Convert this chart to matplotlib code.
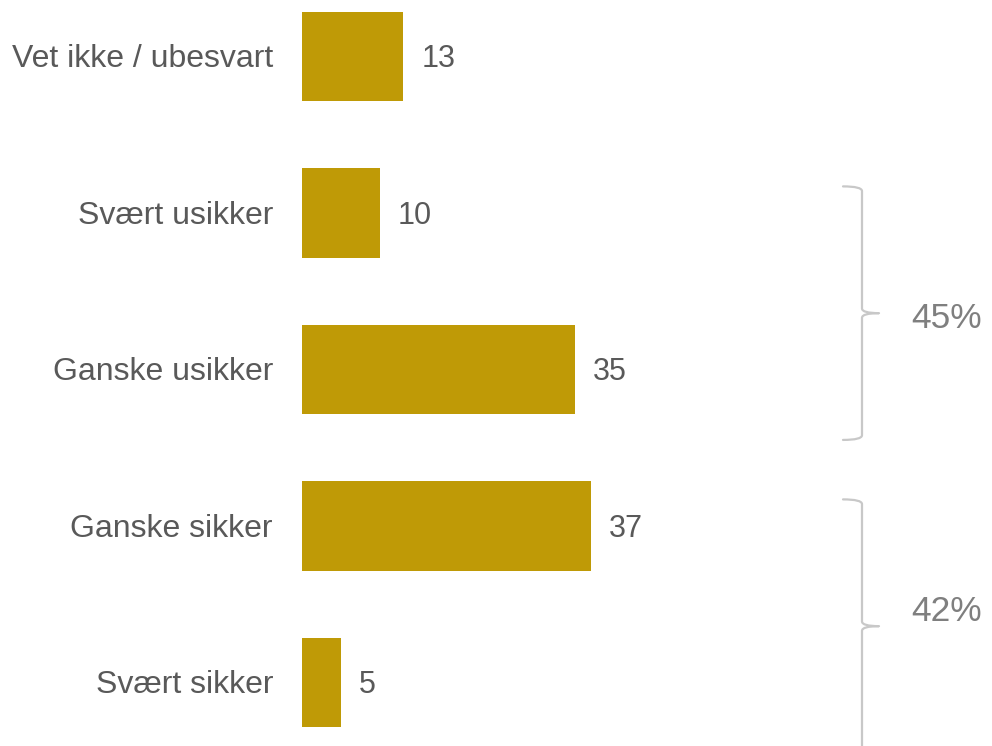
import matplotlib
matplotlib.use("Agg")
import matplotlib.pyplot as plt
from matplotlib.path import Path
from matplotlib.patches import PathPatch

# Data
categories = ["Vet ikke / ubesvart", "Svært usikker", "Ganske usikker", "Ganske sikker", "Svært sikker"]
values = [13, 10, 35, 37, 5]
groups = [(1, 2), (3, 4)]  # index ranges bracketed with a total

BAR_COLOR = "#BF9A06"
TEXT_COLOR = "#595959"
BRACE_COLOR = "#C8C8C8"
PCT_COLOR = "#7F7F7F"

plt.rcParams["font.family"] = ["Liberation Sans", "DejaVu Sans"]

fig = plt.figure(figsize=(9.92, 7.46), dpi=100)
ax = fig.add_axes([302 / 992, 0, 690 / 992, 1])

px_per_unit = 7.8
step = 156.5
ax.set_xlim(0, 690 / px_per_unit)
ax.set_ylim((746 - 56.5) / step, -56.5 / step)

ypos = list(range(len(categories)))
ax.barh(ypos, values, height=0.57, color=BAR_COLOR)

dy = 2.5 / step  # nudge text so cap height centres on the bar
for y, v, c in zip(ypos, values, categories):
    ax.text(v + 18 / px_per_unit, y + dy, str(v), va="center", ha="left",
            fontsize=22, color=TEXT_COLOR)
    ax.text(-29 / px_per_unit, y + dy, c, va="center", ha="right",
            fontsize=23, color=TEXT_COLOR)

# Braces with group totals
x_hook = (843 - 302) / px_per_unit
x_line = (862 - 302) / px_per_unit
x_tip = (879 - 302) / px_per_unit
r = 0.03
label_offsets = [0.16, 0.03]
for (start, end), off in zip(groups, label_offsets):
    top = start - 0.17
    mid = (start + end) / 2 + 0.14
    bot = 2 * mid - top
    verts = [
        (x_hook, top), (x_line, top), (x_line, top + r),
        (x_line, mid - r), (x_line, mid), (x_tip, mid),
        (x_line, mid), (x_line, mid + r),
        (x_line, bot - r), (x_line, bot), (x_hook, bot),
    ]
    codes = [
        Path.MOVETO, Path.CURVE3, Path.CURVE3,
        Path.LINETO, Path.CURVE3, Path.CURVE3,
        Path.CURVE3, Path.CURVE3,
        Path.LINETO, Path.CURVE3, Path.CURVE3,
    ]
    patch = PathPatch(Path(verts, codes), facecolor="none", edgecolor=BRACE_COLOR,
                      lw=1.6, clip_on=False, capstyle="round", joinstyle="round")
    ax.add_patch(patch)
    total = sum(values[start:end + 1])
    ax.text((911 - 302) / px_per_unit, (start + end) / 2 + off + dy, f"{total}%",
            va="center", ha="left", fontsize=25.5, color=PCT_COLOR)

ax.axis("off")
fig.savefig("out.png", dpi=100)
